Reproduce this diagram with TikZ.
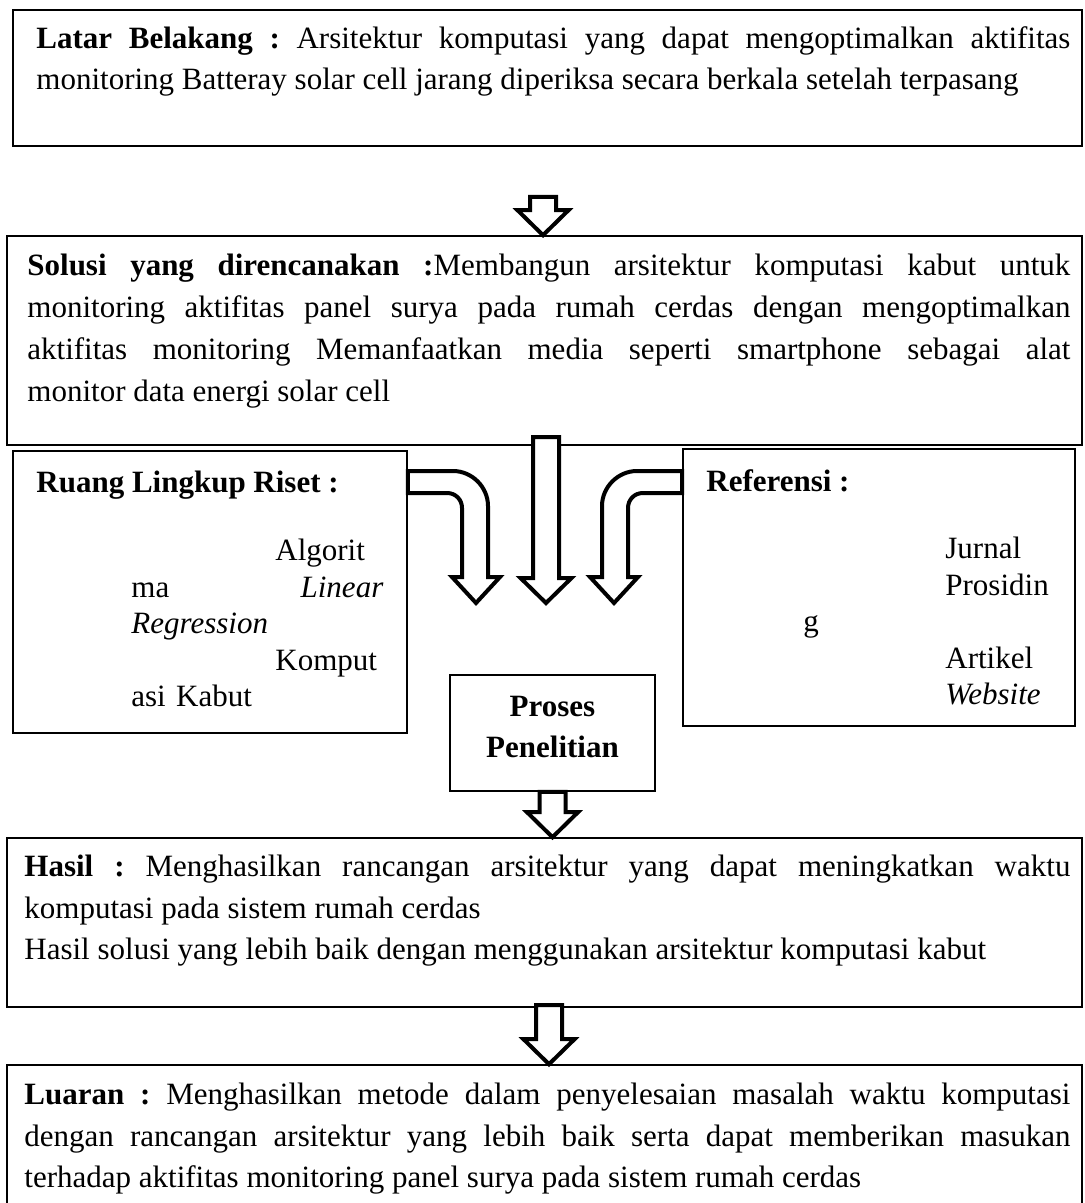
\documentclass[tikz,border=0pt]{standalone}
\usepackage{fontspec}
\setmainfont{Liberation Serif}
\frenchspacing
\usetikzlibrary{calc,fit}

\newcommand{\huruf}{\fontsize{15.5}{20.75}\selectfont}
% panah blok lurus ke bawah, dari #1 sampai ujung #2
\newcommand{\panahblok}[2]{%
  \draw[blok] let \p1=(#1), \p2=(#2) in
    (\x1-6.5pt,\y1) -- (\x1+6.5pt,\y1) -- (\x1+6.5pt,\y2+12.5pt) -- (\x1+12.75pt,\y2+12.5pt)
    -- (\x1,\y2) -- (\x1-12.75pt,\y2+12.5pt) -- (\x1-6.5pt,\y2+12.5pt) -- cycle;}

\tikzset{
  kotak/.style={draw,line width=0.8pt,inner sep=0pt},
  isi/.style={inner sep=0pt,align=justify,anchor=north west,font=\huruf},
  daftar/.style={inner sep=0pt,align=left,anchor=north west,font=\fontsize{15.5}{18.25}\selectfont},
  blok/.style={draw,fill=white,line width=2pt,line join=miter},
}

\begin{document}
\begin{tikzpicture}[x=0.5pt,y=-0.5pt]
\useasboundingbox (0,0) rectangle (1084,1203);

% kotak-kotak
\node[kotak,fit={(13,10) (1082,146)}] (latar) {};
\node[kotak,fit={(7,236) (1082,445)}] (solusi) {};
\node[kotak,fit={(13,451) (407,733)}] (ruang) {};
\node[kotak,fit={(683,449) (1075,726)}] (referensi) {};
\node[kotak,fit={(450,675) (655,791)}] (proses) {};
\node[kotak,fit={(7,838) (1082,1007)}] (hasil) {};
\node[kotak,fit={(7,1065) (1082,1215)}] (luaran) {};

% teks
\node[isi,text width=517pt] (latarteks) at (36,26) {\textbf{Latar Belakang :} Arsitektur komputasi yang dapat mengoptimalkan aktifitas\linebreak monitoring Batteray solar cell jarang diperiksa secara berkala setelah terpasang};
\node[isi,text width=521.5pt,font=\fontsize{15.5}{21}\selectfont] (solusiteks) at (27,254) {\textbf{Solusi yang direncanakan :}Membangun arsitektur komputasi kabut untuk\linebreak monitoring aktifitas panel surya pada rumah cerdas dengan mengoptimalkan\linebreak aktifitas monitoring Memanfaatkan media seperti smartphone sebagai alat\linebreak monitor data energi solar cell};
\node[isi,font=\huruf\bfseries] (ruangjudul) at (36,471) {Ruang Lingkup Riset :};
\node[daftar,text width=126pt] (ruangisi) at (131,539) {\hspace*{72pt}Algorit\\ma\hfill\textit{Linear}\\\textit{Regression}\\\hspace*{72pt}Komput\\asi Kabut};
\node[isi,font=\huruf\bfseries] (refjudul) at (706,469) {Referensi :};
\node[daftar,text width=130pt] (refisi) at (803,537) {\hspace*{71pt}Jurnal\\\hspace*{71pt}Prosidin\\g\\\hspace*{71pt}Artikel\\\hspace*{71pt}\textit{Website}};
\node[align=center,inner sep=0pt,font=\fontsize{15.5}{20.5}\selectfont\bfseries] (prosesteks) at ([yshift=3pt]proses.center) {Proses\\Penelitian};
\node[isi,text width=523pt] (hasilteks) at (24,855) {\textbf{Hasil :} Menghasilkan rancangan arsitektur yang dapat meningkatkan waktu\linebreak komputasi pada sistem rumah cerdas\\Hasil solusi yang lebih baik dengan menggunakan arsitektur komputasi kabut};
\node[isi,text width=523pt] (luaranteks) at (24,1083) {\textbf{Luaran :} Menghasilkan metode dalam penyelesaian masalah waktu komputasi\linebreak dengan rancangan arsitektur yang lebih baik serta dapat memberikan masukan\linebreak terhadap aktifitas monitoring panel surya pada sistem rumah cerdas};

% panah lurus
\coordinate (a1) at (543,197);
\coordinate (a2) at (546,437);
\coordinate (b2) at (546,603);
\coordinate (a3) at (549,1005);
\panahblok{a1}{a1 |- solusi.north}
\panahblok{a2}{b2}
\panahblok{proses.south}{proses.south |- hasil.north}
\panahblok{a3}{a3 |- luaran.north}

% panah belok kiri dan kanan
\draw[blok] (ruang.east |- 0,471) -- (453,471) .. controls (472,471) and (488,487) .. (488,506) -- (488,577) -- (500,577) -- (476,603) -- (452,577) -- (462,577) -- (462,508) .. controls (462,500) and (456,493) .. (447,493) -- (ruang.east |- 0,493) -- cycle;
\draw[blok] (referensi.west |- 0,471) -- (637,471) .. controls (618,471) and (602,487) .. (602,506) -- (602,577) -- (590,577) -- (614,603) -- (638,577) -- (628,577) -- (628,508) .. controls (628,500) and (634,493) .. (643,493) -- (referensi.west |- 0,493) -- cycle;
\end{tikzpicture}
\end{document}
